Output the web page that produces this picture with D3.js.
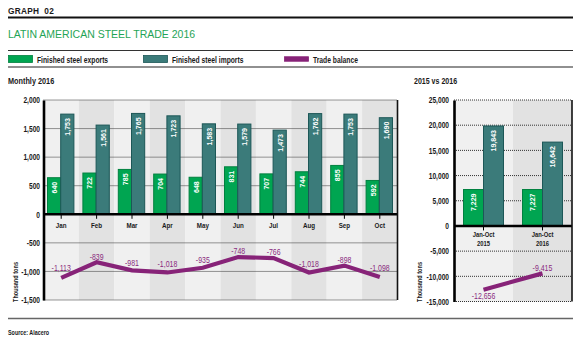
<!DOCTYPE html>
<html>
<head>
<meta charset="utf-8">
<script src="https://cdn.jsdelivr.net/npm/d3@7"></script>
<style>
  html, body { margin: 0; padding: 0; background: #fff; }
  svg { display: block; }
  text { font-family: "Liberation Sans", Arial, sans-serif; white-space: pre; }
</style>
</head>
<body>
<svg id="chart" width="584" height="343"></svg>
<script>
// Monthly 2016 (thousand tons)
const months = ["Jan", "Feb", "Mar", "Apr", "May", "Jun", "Jul", "Aug", "Sep", "Oct"];
const monthlyExports = [640, 722, 785, 704, 648, 831, 707, 744, 855, 592];
const monthlyImports = [1753, 1561, 1765, 1723, 1583, 1579, 1473, 1762, 1753, 1690];
const monthlyBalance = [-1113, -839, -981, -1018, -935, -748, -766, -1018, -898, -1098];
const monthlyTicks = [-1500, -1000, -500, 0, 500, 1000, 1500, 2000];

// Cumulative January-October comparison
const periods = ["2015", "2016"];
const periodLabels = [["Jan-Oct", "2015"], ["Jan-Oct", "2016"]];
const periodExports = [7229, 7227];
const periodImports = [19843, 16642];
const periodBalance = [-12656, -9415];
const periodTicks = [-15000, -10000, -5000, 0, 5000, 10000, 15000, 20000, 25000];

const C = {
  green: "#00a551", greenEdge: "#00803f",
  teal: "#3b7b7a", tealEdge: "#1c5757",
  purple: "#872378", purpleText: "#8a2a7e",
  title: "#1fa456",
  bandLight: "#f0f0f0", bandDark: "#e2e2e2",
  ink: "#1a1a1a"
};

const svg = d3.select("#chart");
const fmt = d3.format(",");
const fmtSigned = v => (v < 0 ? "-" : "") + fmt(Math.abs(v));

// Text helper: places a label with optional rotation and horizontal condensing
function txt(parent, s, o) {
  const t = parent.append("text")
    .attr("transform", `translate(${o.x},${o.y})` + (o.rot ? ` rotate(${o.rot})` : "") + ` scale(${o.k || 1},1)`)
    .attr("font-size", o.size || 8)
    .attr("fill", o.fill || C.ink)
    .attr("text-anchor", o.anchor || "start")
    .text(s);
  if (o.bold !== false) t.attr("font-weight", "bold");
  if (o.dy) t.attr("dy", o.dy);
  if (o.ls) t.attr("letter-spacing", o.ls);
  return t;
}

// ---- header ----
txt(svg, "GRAPH  02", { x: 8, y: 13.5, size: 9, k: 0.92, ls: 0.3 });
svg.append("line").attr("x1", 8).attr("x2", 573).attr("y1", 17.5).attr("y2", 17.5)
  .attr("stroke", "#111").attr("stroke-width", 1.8);
txt(svg, "LATIN AMERICAN STEEL TRADE 2016", { x: 8, y: 37.5, size: 10.5, fill: C.title, bold: false });
svg.append("line").attr("x1", 8).attr("x2", 573).attr("y1", 50.5).attr("y2", 50.5)
  .attr("stroke", "#333").attr("stroke-width", 1);
svg.append("line").attr("x1", 8).attr("x2", 573).attr("y1", 67).attr("y2", 67)
  .attr("stroke", "#222").attr("stroke-width", 1.2);

// legend
const legend = [
  { label: "Finished steel exports", fill: C.green, edge: C.greenEdge, x: 8, h: 7 },
  { label: "Finished steel imports", fill: C.teal, edge: C.tealEdge, x: 143, h: 7 },
  { label: "Trade balance", fill: C.purple, edge: C.purple, x: 284, h: 4.5 }
];
legend.forEach(d => {
  svg.append("rect").attr("x", d.x + 0.5).attr("y", 59 - d.h / 2).attr("width", 24).attr("height", d.h)
    .attr("fill", d.fill).attr("stroke", d.edge).attr("stroke-width", 0.8);
  txt(svg, d.label, { x: d.x + 29, y: 62.5, size: 9, k: 0.75 });
});

txt(svg, "Monthly 2016", { x: 8, y: 84, size: 8.5, k: 0.86 });
txt(svg, "2015 vs 2016", { x: 414, y: 84, size: 8.5, k: 0.83 });

// ---- footer ----
svg.append("line").attr("x1", 8).attr("x2", 573).attr("y1", 318.5).attr("y2", 318.5)
  .attr("stroke", "#666").attr("stroke-width", 1.6);
txt(svg, "Source: Alacero", { x: 8, y: 335, size: 7.5, k: 0.72 });

// ---- shared panel drawing ----
function panel(opt) {
  const g = svg.append("g");
  const { x, y, x1 } = opt;
  const [top, bottom] = [y.range()[1], y.range()[0]];
  const [left, right] = x.range();

  // alternating column shading
  g.selectAll("rect.band").data(opt.cats).join("rect")
    .attr("x", d => x(d)).attr("y", top).attr("width", x.bandwidth()).attr("height", bottom - top)
    .attr("fill", (d, i) => i % 2 ? C.bandDark : C.bandLight);

  // dotted gridlines
  g.selectAll("line.grid").data(opt.ticks.filter(t => t !== 0)).join("line")
    .attr("x1", left).attr("x2", right).attr("y1", d => y(d)).attr("y2", d => y(d))
    .attr("stroke", "#333").attr("stroke-width", 1).attr("stroke-dasharray", "1,1");

  // bars with their values written inside
  const rows = opt.cats.map((c, i) => ({ c, exp: opt.exp[i], imp: opt.imp[i] }));
  const series = [
    { key: "exp", fill: C.green, edge: C.greenEdge },
    { key: "imp", fill: C.teal, edge: C.tealEdge }
  ];
  series.forEach(s => {
    g.selectAll("rect.bar-" + s.key).data(rows).join("rect")
      .attr("x", d => x(d.c) + x1(s.key)).attr("y", d => y(d[s.key]))
      .attr("width", x1.bandwidth()).attr("height", d => y(0) - y(d[s.key]))
      .attr("fill", s.fill).attr("stroke", s.edge).attr("stroke-width", 1);
    rows.forEach(d => {
      txt(g, fmt(d[s.key]), {
        x: x(d.c) + x1(s.key) + x1.bandwidth() / 2, y: y(d[s.key]) + 4, rot: -90,
        anchor: "end", dy: "0.35em", size: 8, k: 0.88, fill: "#fff"
      });
    });
  });

  // zero line, category ticks and right frame
  g.append("line").attr("x1", left).attr("x2", right).attr("y1", y(0)).attr("y2", y(0))
    .attr("stroke", "#000").attr("stroke-width", 2.6);
  g.selectAll("line.ctick").data(opt.cats).join("line")
    .attr("x1", d => x(d) + x.bandwidth() / 2).attr("x2", d => x(d) + x.bandwidth() / 2)
    .attr("y1", y(0)).attr("y2", y(0) + 4.5).attr("stroke", "#000").attr("stroke-width", 1);
  g.append("line").attr("x1", right).attr("x2", right).attr("y1", top).attr("y2", bottom)
    .attr("stroke", "#111").attr("stroke-width", 1.6);

  // value axis
  const k = 0.78;
  const yAxis = g.append("g").attr("transform", `translate(${left},0)`)
    .call(d3.axisLeft(y).tickValues(opt.ticks).tickSize(0).tickPadding(opt.tickPad).tickFormat(fmtSigned));
  yAxis.select(".domain").attr("stroke", "#000").attr("stroke-width", 2.6);
  yAxis.selectAll("text")
    .attr("font-size", 8.5).attr("font-weight", "bold").attr("fill", C.ink).attr("font-family", null)
    .attr("x", -opt.tickPad / k).attr("transform", `scale(${k},1)`);

  txt(g, "Thousand tons", { x: opt.titleX, y: 282, rot: -90, anchor: "middle", size: 8, k: 0.7 });

  // category labels
  opt.cats.forEach((c, i) => {
    opt.catLabels[i].forEach((t, j) => {
      txt(g, t, { x: x(c) + x.bandwidth() / 2, y: y(0) + opt.catY + j * 8.5, anchor: "middle",
        size: opt.catSize, k: 0.78 });
    });
  });

  // trade balance line and its value labels
  const pts = opt.cats.map((c, i) => ({ c, v: opt.bal[i], dy: opt.balDy[i] }));
  const line = d3.line().x(d => x(d.c) + x.bandwidth() / 2).y(d => y(d.v));
  g.append("path").datum(pts).attr("d", line).attr("fill", "none")
    .attr("stroke", C.purple).attr("stroke-width", 4.2).attr("stroke-linejoin", "miter");
  pts.forEach(d => {
    txt(g, fmtSigned(d.v), { x: x(d.c) + x.bandwidth() / 2, y: y(d.v) + d.dy, anchor: "middle",
      size: 8.5, k: 0.82, fill: C.purpleText, bold: false });
  });
}

// Monthly panel
{
  const x = d3.scaleBand().domain(months).range([43.5, 397.5]);
  const x1 = d3.scaleBand().domain(["exp", "imp"]).range([4, x.bandwidth() - 5]);
  const y = d3.scaleLinear().domain([-1500, 2000]).range([300, 100]);
  panel({
    x, x1, y, cats: months, ticks: monthlyTicks, tickPad: 3.5,
    exp: monthlyExports, imp: monthlyImports, bal: monthlyBalance,
    balDy: [-6.5, -2.5, -4, -5, -5, -3.5, -3.5, -5, -2.5, -6],
    catLabels: months.map(m => [m]), catY: 13.5, catSize: 8,
    titleX: 18
  });
}

// Jan-Oct comparison panel
{
  const x = d3.scaleBand().domain(periods).range([454, 572]);
  const x1 = d3.scaleBand().domain(["exp", "imp"]).range([9.5, 49.5]);
  const y = d3.scaleLinear().domain([-15000, 25000]).range([301.5, 100]);
  panel({
    x, x1, y, cats: periods, ticks: periodTicks, tickPad: 5,
    exp: periodExports, imp: periodImports, bal: periodBalance,
    balDy: [9.5, -2.5],
    catLabels: periodLabels, catY: 11.5, catSize: 7.5,
    titleX: 422
  });
}
</script>
</body>
</html>
